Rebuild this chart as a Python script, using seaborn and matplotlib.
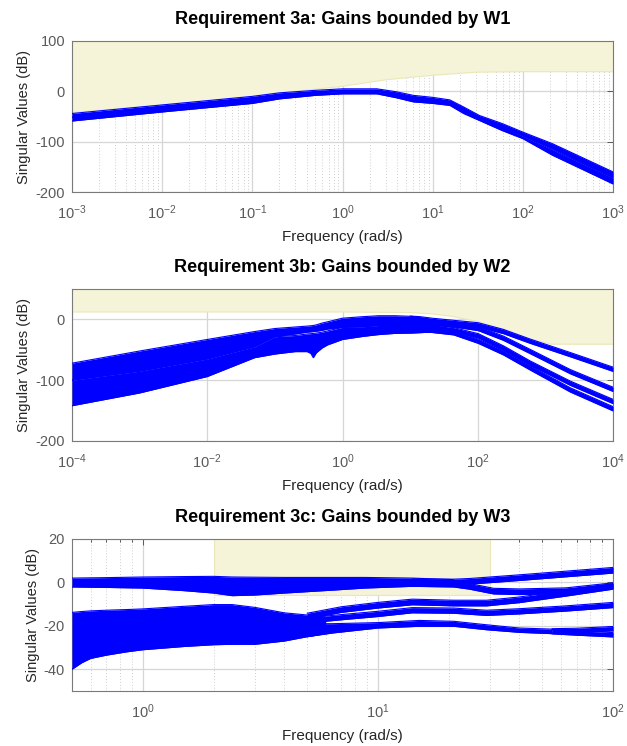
import numpy as np
import matplotlib
matplotlib.use("Agg")
import matplotlib.pyplot as plt
import seaborn as sns
from matplotlib.ticker import FixedLocator, NullFormatter, NullLocator, FuncFormatter

# ---------------- data ----------------
TITLES = ["Requirement 3a: Gains bounded by W1",
          "Requirement 3b: Gains bounded by W2",
          "Requirement 3c: Gains bounded by W3"]
XLABEL = "Frequency (rad/s)"
YLABEL = "Singular Values (dB)"

# Panel 1 (3a)
p1_freq = [1e-3, 1e-2, 1e-1, 0.2, 0.5, 1, 2.4, 4, 6.1, 10, 15.5, 22, 33, 59, 100, 213, 1000]
p1_a_top = [-44, -27, -10, -3, 2, 5, 5, -1, -8, -12, -17, -31, -48, -64, -81, -104, -160]
p1_a_bot = [-52, -34, -17, -9, -3, 0, 0, -7, -14, -18, -22, -37, -53, -71, -88, -114, -171]
p1_b_top = [-51, -33, -16, -8, -2, 0, 0, -6, -13, -17, -21, -36, -52, -70, -89, -116, -172]
p1_b_bot = [-59, -41, -24, -15, -8, -5, -5, -13, -21, -24, -28, -44, -58, -78, -94, -127, -184]
p1_bound_freq = [1e-3, 1e-2, 1e-1, 0.2, 1, 3, 10, 30, 100, 1000]
p1_bound_db = [-41, -26, -10, -2, 11, 24, 33, 39, 40, 40]

# Panel 2 (3b)
p2_freq = [1e-4, 1e-3, 1e-2, 0.05, 0.1, 0.2, 0.3, 0.34, 0.37, 0.41, 0.5, 0.6, 1, 2, 3.4, 6, 10.7, 20]
p2_up_top = [-72, -52, -33, -20, -15, -12.5, -11, -10.5, -10, -9, -6, -4, 2, 4.5, 6, 6, 5, 0]
p2_up_bot = [-100, -85, -65, -45, -28.5, -24, -21, -20.5, -20, -19.5, -18, -16, -13, -12, -10, -10, -10, -10]
p2_lo_top = [-100, -85, -65, -45, -28.5, -26.5, -24, -23.5, -23, -22.5, -21, -19, -13, -12, -10, -10, -10, -10]
p2_lo_bot = [-142, -121, -94, -63, -57, -53, -53, -56, -63, -55, -47, -42, -33, -28, -25, -23, -22.5, -21]
p2_line_freq = [10, 14, 21, 44, 102, 240, 600, 2340, 1e4]
p2_line1 = [2, 1, -1.5, -5, -9, -20, -36, -58, -82]
p2_line2 = [-4, -5, -6, -9, -15, -31, -53, -86, -115]
p2_line3 = [-10, -11, -12, -17, -27, -47, -72, -105, -135]
p2_line4 = [-16, -17, -18, -22, -36, -55, -80, -116, -147]
p2_bound_freq = [1e-4, 1, 10, 20, 40, 100, 300, 600, 1200, 1e4]
p2_bound_db = [13, 13, 12, 10, 6, -3, -20, -32, -40, -40]

# Panel 3 (3c)
p3_up_freq = [0.5, 0.69, 1, 1.5, 2, 2.4, 3, 4, 6.3, 8.8, 14, 21]
p3_up_top = [2, 2.2, 2.5, 2.7, 2.8, 2.5, 2.4, 2.3, 2.3, 2.3, 2, 1.3]
p3_up_bot = [-2.1, -2.3, -2.6, -3.8, -4.9, -6.1, -5.8, -4.9, -3.6, -2.6, -1.8, -1.8]
p3_lo_freq = [0.5, 0.55, 0.6, 0.7, 0.85, 1, 1.5, 2, 2.4, 3, 4, 5, 6]
p3_lo_top = [-13.8, -13.4, -13.1, -12.8, -12.5, -12.2, -11, -10.2, -10.2, -11.5, -14, -15, -16]
p3_lo_bot = [-40, -37, -35, -33.5, -32, -31, -29.5, -28.7, -28.5, -28.5, -27, -25, -23.5]
p3_lineA_freq = [14, 21, 24.5, 40, 100]
p3_lineA = [0.3, 0.2, 0.5, 2.2, 5.6]
p3_lineB_freq = [14, 21, 24.5, 31, 40, 63, 100]
p3_lineB = [-0.5, -0.8, -1.8, -4, -4.3, -3.8, -1.5]
p3_lineCD_freq = [5, 7, 10, 14, 21, 29, 40, 63, 100]
p3_lineC = [-15.5, -12.5, -10.5, -9, -9.5, -9.5, -8, -5, -1.8]
p3_lineD = [-17.5, -16, -14.5, -12.8, -13, -14, -13.3, -12, -10.4]
p3_ef_freq = [5, 6.4, 10, 15, 21, 29, 40, 55]
p3_ef_top = [-19, -19, -18.5, -17.5, -17.9, -19.5, -21, -21.5]
p3_ef_bot = [-25, -23.3, -21, -20.2, -20.2, -21.8, -23, -23.6]
p3_ef_split_freq = [55, 70, 100]
p3_lineE = [-22.3, -22.1, -21.3]
p3_lineF = [-22.7, -23.3, -24.1]
p3_bound_x = [2, 30]
p3_bound_db = [-6, 20]

# ---------------- style ----------------
sns.set_theme(style="white")
plt.rcParams['font.family'] = ['Liberation Sans', 'DejaVu Sans']
plt.rcParams['mathtext.fontset'] = 'custom'
plt.rcParams['mathtext.rm'] = 'Liberation Sans'
plt.rcParams['mathtext.it'] = 'Liberation Sans:italic'
plt.rcParams['axes.unicode_minus'] = False

BLUE = '#0000ff'
SHADE = '#f5f3d8'
SHADE_EDGE = '#ebe7b8'
TICKC = '#5a5a5a'
LABELC = '#262626'

fig = plt.figure(figsize=(6.27, 7.46), dpi=100)
left, width = 72 / 627, (613 - 72) / 627
H = 746
axes = [fig.add_axes([left, 1 - 192 / H, width, 151 / H]),
        fig.add_axes([left, 1 - 441 / H, width, 152 / H]),
        fig.add_axes([left, 1 - 691 / H, width, 152 / H])]


def band(ax, f, top, bot):
    f = np.asarray(f, float)
    ax.fill_between(f, bot, top, color=BLUE, lw=0, zorder=3)
    for y in (top, bot):
        sns.lineplot(x=f, y=np.asarray(y, float), ax=ax, color=BLUE, lw=0.8,
                     zorder=3, legend=False, estimator=None, sort=False)


def line_band(ax, f, center, half):
    c = np.asarray(center, float)
    band(ax, f, c + half, c - half)


def style(ax, xlim, ylim, yticks, xmajor, xminor, title):
    ax.set_xscale('log')
    ax.set_xlim(xlim)
    ax.set_ylim(ylim)
    ax.set_yticks(yticks)
    ax.xaxis.set_major_locator(FixedLocator(xmajor))
    if xminor:
        ax.xaxis.set_minor_locator(FixedLocator(xminor))
    else:
        ax.xaxis.set_minor_locator(NullLocator())
    ax.xaxis.set_minor_formatter(NullFormatter())
    ax.xaxis.set_major_formatter(FuncFormatter(
        lambda v, p: r'$\mathregular{10^{%d}}$' % int(round(np.log10(v)))))
    ax.tick_params(which='both', direction='in', top=True, right=True,
                   colors=TICKC, labelcolor=TICKC, labelsize=10.5, width=0.7)
    ax.tick_params(which='major', length=4)
    ax.tick_params(which='minor', length=2.5)
    ax.tick_params(axis='x', which='major', pad=8)
    ax.tick_params(axis='y', which='major', pad=5)
    ax.grid(True, which='major', color='#d6d6d6', lw=0.9, ls='-')
    if xminor:
        ax.grid(True, which='minor', axis='x', color='#bdbdbd', lw=0.6, ls=(0, (1, 2.5)))
    for s in ax.spines.values():
        s.set_color('#7a7a7a')
        s.set_linewidth(0.8)
    ax.set_xlabel(XLABEL, fontsize=11, color=LABELC, labelpad=6)
    ax.set_ylabel(YLABEL, fontsize=10.5, color=LABELC, labelpad=3)
    ax.set_title(title, fontsize=13, fontweight='bold', color='black', pad=12)


def minors(lo, hi):
    out = []
    for d in range(lo, hi):
        out += [m * 10.0 ** d for m in range(2, 10)]
    return out


# ---- Panel 1 ----
ax = axes[0]
ax.fill_between(p1_bound_freq, p1_bound_db, 100, color=SHADE, lw=0.8, edgecolor=SHADE_EDGE, zorder=1)
band(ax, p1_freq, p1_a_top, p1_a_bot)
band(ax, p1_freq, p1_b_top, p1_b_bot)
style(ax, (1e-3, 1e3), (-200, 100), [-200, -100, 0, 100],
      [10.0 ** k for k in range(-3, 4)], minors(-3, 3), TITLES[0])

# ---- Panel 2 ----
ax = axes[1]
ax.fill_between(p2_bound_freq, p2_bound_db, 50, color=SHADE, lw=0.8, edgecolor=SHADE_EDGE, zorder=1)
band(ax, p2_freq, p2_up_top, p2_up_bot)
band(ax, p2_freq, p2_lo_top, p2_lo_bot)
for ln in (p2_line1, p2_line2, p2_line3, p2_line4):
    line_band(ax, p2_line_freq, ln, 3.5)
style(ax, (1e-4, 1e4), (-200, 50), [-200, -100, 0],
      [10.0 ** k for k in range(-4, 5, 2)], None, TITLES[1])

# ---- Panel 3 ----
ax = axes[2]
ax.fill_between(p3_bound_x, p3_bound_db[0], p3_bound_db[1], color=SHADE, lw=0.8,
                edgecolor=SHADE_EDGE, zorder=1)
band(ax, p3_up_freq, p3_up_top, p3_up_bot)
band(ax, p3_lo_freq, p3_lo_top, p3_lo_bot)
line_band(ax, p3_lineA_freq, p3_lineA, 1.3)
line_band(ax, p3_lineB_freq, p3_lineB, 1.3)
line_band(ax, p3_lineCD_freq, p3_lineC, 1.3)
line_band(ax, p3_lineCD_freq, p3_lineD, 1.2)
band(ax, p3_ef_freq, p3_ef_top, p3_ef_bot)
line_band(ax, p3_ef_split_freq, p3_lineE, 1.0)
line_band(ax, p3_ef_split_freq, p3_lineF, 1.0)
style(ax, (0.5, 100), (-50, 20), [-40, -20, 0, 20],
      [1, 10, 100], [0.5, 0.6, 0.7, 0.8, 0.9] + minors(0, 2), TITLES[2])

fig.savefig("out.png", dpi=100)
